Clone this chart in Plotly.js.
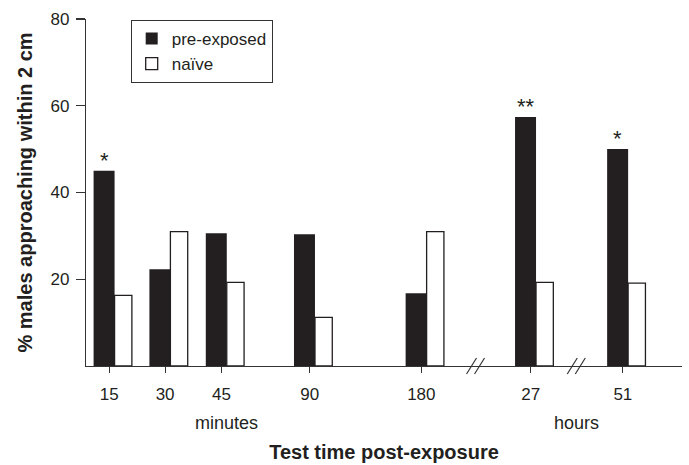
<!DOCTYPE html>
<html>
<head>
<meta charset="utf-8">
<script src="https://cdn.plot.ly/plotly-3.0.1.min.js"></script>
<style>
html, body { margin: 0; padding: 0; background: #fff; }
#chart { width: 689px; height: 465px; }
</style>
</head>
<body>
<div id="chart"></div>
<script>
// ---- data ----
const categories = ['15', '30', '45', '90', '180', '27', '51'];
const preExposed = [45.0, 22.3, 30.6, 30.4, 16.8, 57.4, 50.0];
const naive = [16.3, 31.0, 19.3, 11.2, 31.0, 19.3, 19.1];
const significance = ['*', '', '', '', '', '**', '*'];
const seriesNames = ['pre-exposed', 'naïve'];
const unitLabels = ['minutes', 'hours'];
const yTicks = [20, 40, 60, 80];

// ---- layout (axis slot positions for the uneven spacing of the original) ----
const slotPos = [1, 2, 3.01, 4.59, 6.59, 8.55, 10.2];
const breakAfter = [4, 5]; // axis breaks between these slots and the next

const FONT = 'Liberation Sans, Arial, Helvetica, sans-serif';
const INK = '#231f20';
const blackOffset = -0.281, blackWidth = 0.376;
const whiteOffset = 0.095, whiteWidth = 0.31;

const traces = [
  {
    type: 'bar', name: seriesNames[0], x: slotPos, y: preExposed,
    offset: blackOffset, width: blackWidth,
    marker: { color: INK, line: { width: 0 } },
    hoverinfo: 'y'
  },
  {
    type: 'bar', name: seriesNames[1], x: slotPos, y: naive,
    offset: whiteOffset, width: whiteWidth,
    marker: { color: '#ffffff', line: { color: INK, width: 1.3 } },
    hoverinfo: 'y'
  }
];

const annotations = [];
significance.forEach((s, i) => {
  if (!s) return;
  annotations.push({
    x: slotPos[i] + blackOffset + blackWidth / 2, y: preExposed[i],
    xref: 'x', yref: 'y', text: s, showarrow: false,
    yanchor: 'bottom', yshift: -4,
    font: { family: FONT, size: 22, color: INK }
  });
});
// axis-break marks "//" drawn as pixel-sized line shapes
const shapes = [];
breakAfter.forEach(i => {
  const mid = (slotPos[i] + slotPos[i + 1]) / 2;
  [[-9.5, 0.5], [-1.5, 8.5]].forEach(([a, b]) => {
    shapes.push({
      type: 'line', xref: 'x', yref: 'paper', layer: 'above',
      xsizemode: 'pixel', xanchor: mid, x0: a, x1: b,
      ysizemode: 'pixel', yanchor: 0, y0: -8, y1: 8,
      line: { color: '#333', width: 1.2 }
    });
  });
});
// unit labels under the tick groups
annotations.push({
  x: (slotPos[1] + slotPos[3]) / 2 - 0.2, y: 0, xref: 'x', yref: 'paper',
  text: unitLabels[0], showarrow: false, yanchor: 'middle', yshift: -57,
  font: { family: FONT, size: 18, color: INK }
});
annotations.push({
  x: (slotPos[5] + slotPos[6]) / 2, y: 0, xref: 'x', yref: 'paper',
  text: unitLabels[1], showarrow: false, yanchor: 'middle', yshift: -57,
  font: { family: FONT, size: 18, color: INK }
});

const layout = {
  width: 689, height: 465,
  margin: { l: 86, r: 7, t: 19, b: 99, pad: 0 },
  paper_bgcolor: '#fff', plot_bgcolor: '#fff',
  barmode: 'overlay',
  showlegend: true,
  font: { family: FONT, color: INK },
  xaxis: {
    range: [0.583, 11.26],
    tickmode: 'array', tickvals: slotPos, ticktext: categories,
    showline: true, linecolor: '#333', linewidth: 1.2,
    ticks: 'outside', ticklen: 6, tickcolor: '#333', tickwidth: 1.2,
    ticklabelstandoff: 6,
    showgrid: false, zeroline: false,
    tickfont: { family: FONT, size: 17, color: INK },
    title: { text: '<b>Test time post-exposure</b>', standoff: 42,
             font: { family: FONT, size: 20, color: INK } }
  },
  yaxis: {
    range: [0, 80],
    tickmode: 'array', tickvals: yTicks,
    showline: true, linecolor: '#333', linewidth: 1.2,
    ticks: 'outside', ticklen: 9, tickcolor: '#333', tickwidth: 1.2,
    ticklabelstandoff: 3,
    showgrid: false, zeroline: false,
    tickfont: { family: FONT, size: 17, color: INK },
    title: { text: '<b>% males approaching within 2 cm</b>', standoff: 12,
             font: { family: FONT, size: 20, color: INK } }
  },
  legend: {
    x: 0.075, y: 0.997, xanchor: 'left', yanchor: 'top',
    bgcolor: '#fff', bordercolor: '#333', borderwidth: 1,
    font: { family: FONT, size: 17, color: INK },
    tracegroupgap: 0, traceorder: 'normal'
  },
  shapes: shapes,
  annotations: annotations
};

Plotly.newPlot('chart', traces, layout, { staticPlot: true, displayModeBar: false });
</script>
</body>
</html>
